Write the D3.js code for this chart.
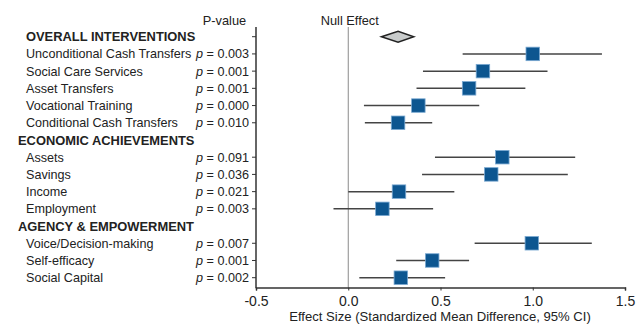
<!DOCTYPE html>
<html>
<head>
<meta charset="utf-8">
<script src="https://cdn.jsdelivr.net/npm/d3@7"></script>
<style>
  body { margin: 0; background: #fff; }
  text { font-family: "Liberation Sans", Arial, sans-serif; fill: #222; }
</style>
</head>
<body>
<div id="forest"></div>
<script>
// Rows, top to bottom (headings included)
const labels = [
  "OVERALL INTERVENTIONS",
  "Unconditional Cash Transfers", "Social Care Services", "Asset Transfers",
  "Vocational Training", "Conditional Cash Transfers",
  "ECONOMIC ACHIEVEMENTS",
  "Assets", "Savings", "Income", "Employment",
  "AGENCY & EMPOWERMENT",
  "Voice/Decision-making", "Self-efficacy", "Social Capital"
];
const kinds = ["summary", "item", "item", "item", "item", "item", "head",
  "item", "item", "item", "item", "head", "item", "item", "item"];
const pvalues = ["", "0.003", "0.001", "0.001", "0.000", "0.010", null,
  "0.091", "0.036", "0.021", "0.003", null, "0.007", "0.001", "0.002"];
const estimates = [0.27, 1.00, 0.73, 0.655, 0.38, 0.27, null,
  0.835, 0.775, 0.275, 0.185, null, 0.995, 0.455, 0.285];
const lower = [0.18, 0.62, 0.405, 0.37, 0.085, 0.09, null,
  0.47, 0.40, 0.0, -0.08, null, 0.685, 0.26, 0.06];
const upper = [0.355, 1.375, 1.08, 0.96, 0.71, 0.455, null,
  1.23, 1.19, 0.575, 0.46, null, 1.32, 0.655, 0.525];
const xTicks = [-0.5, 0.0, 0.5, 1.0, 1.5];

const rows = labels.map((d, i) => ({
  i: i, label: d, kind: kinds[i], p: pvalues[i],
  est: estimates[i], lo: lower[i], hi: upper[i]
}));

const W = 640, H = 325;
const svg = d3.select("#forest").append("svg")
  .attr("width", W).attr("height", H);

const x = d3.scaleLinear().domain([-0.5, 1.5]).range([256, 625]);
const y = d3.scalePoint().domain(d3.range(labels.length)).range([36.7, 277.7]);
const plotTop = 27, plotBottom = 287.5;
const fs = 12.6;

// null effect line
svg.append("line")
  .attr("x1", x(0)).attr("x2", x(0))
  .attr("y1", plotTop).attr("y2", plotBottom)
  .attr("stroke", "#8a8a8a").attr("stroke-width", 1);

// X axis
const xAxis = svg.append("g")
  .attr("transform", `translate(0, ${plotBottom})`)
  .call(d3.axisBottom(x).tickValues(xTicks).tickFormat(d => d.toFixed(1))
    .tickSizeInner(3).tickSizeOuter(3).tickPadding(6));
xAxis.select(".domain").attr("stroke", "#333").attr("stroke-width", 1.5);
xAxis.selectAll(".tick line").attr("stroke", "#333");
xAxis.selectAll("text").attr("font-size", 14).attr("fill", "#2a2a2a")
  .style("font-family", "'Liberation Sans', Arial, sans-serif");

// Y axis (left), ticks at non-heading rows
svg.append("line")
  .attr("x1", x(-0.5)).attr("x2", x(-0.5))
  .attr("y1", plotTop).attr("y2", plotBottom + 0.75)
  .attr("stroke", "#333").attr("stroke-width", 1.5);
svg.selectAll(".ytick")
  .data(rows.filter(d => d.kind !== "head"))
  .join("line")
  .attr("class", "ytick")
  .attr("x1", x(-0.5) - 4).attr("x2", x(-0.5))
  .attr("y1", d => y(d.i)).attr("y2", d => y(d.i))
  .attr("stroke", "#333");

// row labels
svg.selectAll(".lab")
  .data(rows)
  .join("text")
  .attr("class", "lab")
  .attr("x", d => d.kind === "head" ? 18 : 26)
  .attr("y", d => y(d.i))
  .attr("dy", "0.36em")
  .attr("font-size", d => d.kind === "item" ? fs : 12.9)
  .attr("font-weight", d => d.kind === "item" ? "normal" : "bold")
  .attr("fill", d => d.kind === "item" ? "#2a2a2a" : "#111")
  .text(d => d.label);

// p values
const pv = svg.selectAll(".pv")
  .data(rows.filter(d => d.p))
  .join("text")
  .attr("class", "pv")
  .attr("x", 249)
  .attr("y", d => y(d.i))
  .attr("dy", "0.36em")
  .attr("text-anchor", "end")
  .attr("font-size", fs)
  .attr("fill", "#2a2a2a");
pv.append("tspan").attr("font-style", "italic").text("p");
pv.append("tspan").text(d => " = " + d.p);

// column headers
svg.append("text").attr("x", 224.5).attr("y", 24.5).attr("text-anchor", "middle")
  .attr("font-size", 12.8).attr("fill", "#2a2a2a").text("P-value");
svg.append("text").attr("x", x(0) + 1.5).attr("y", 24.5).attr("text-anchor", "middle")
  .attr("font-size", 12.8).attr("fill", "#2a2a2a").text("Null Effect");

// axis title
svg.append("text").attr("x", 440).attr("y", 321).attr("text-anchor", "middle")
  .attr("font-size", 13.1).attr("fill", "#2a2a2a")
  .text("Effect Size (Standardized Mean Difference, 95% CI)");

const items = rows.filter(d => d.kind === "item");

// CI lines
svg.selectAll(".ci")
  .data(items)
  .join("line")
  .attr("class", "ci")
  .attr("x1", d => x(d.lo)).attr("x2", d => x(d.hi))
  .attr("y1", d => y(d.i)).attr("y2", d => y(d.i))
  .attr("stroke", "#444").attr("stroke-width", 1.5);

// squares
const sq = 13.5;
svg.selectAll(".sq")
  .data(items)
  .join("rect")
  .attr("class", "sq")
  .attr("x", d => x(d.est) - sq / 2)
  .attr("y", d => y(d.i) - sq / 2)
  .attr("width", sq).attr("height", sq)
  .attr("fill", "#0d5690")
  .attr("stroke", "#7aa9d2").attr("stroke-width", 0.8);

// summary diamond
const s = rows[0];
svg.append("path")
  .attr("d", `M${x(s.lo)},${y(0)} L${x(s.est)},${y(0) - 5.5} L${x(s.hi)},${y(0)} L${x(s.est)},${y(0) + 5.5} Z`)
  .attr("fill", "#c9cccc")
  .attr("stroke", "#222").attr("stroke-width", 1.5);
</script>
</body>
</html>
